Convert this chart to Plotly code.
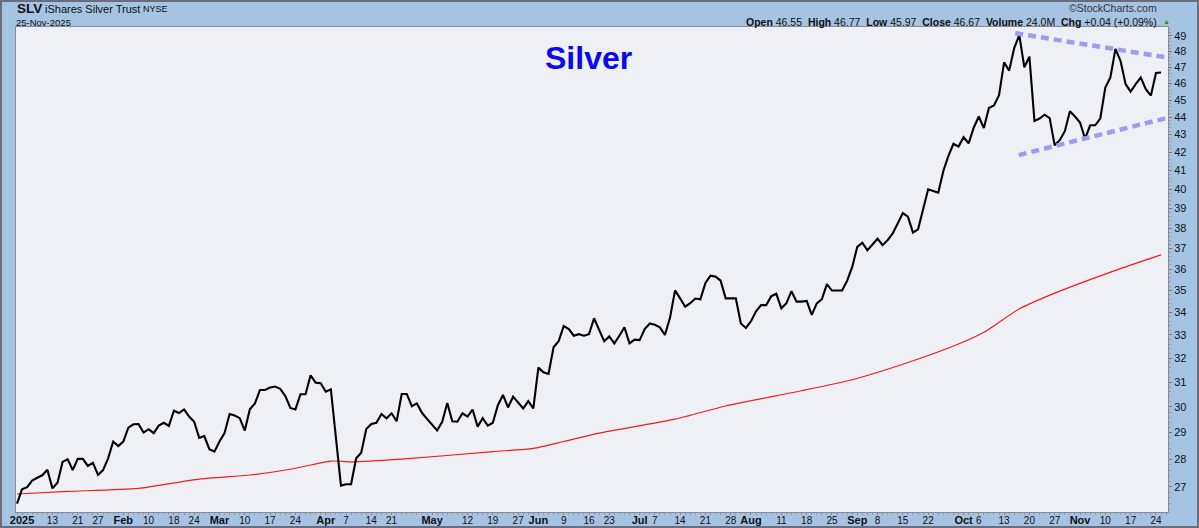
import numpy as np
import pandas as pd
import plotly.graph_objects as go

# ---------------- data ----------------
holidays = ["2025-01-01", "2025-01-09", "2025-01-20", "2025-02-17", "2025-04-18",
            "2025-05-26", "2025-06-19", "2025-07-04", "2025-09-01"]
dates = [d for d in pd.bdate_range("2024-12-31", "2025-11-25").strftime("%Y-%m-%d")
         if d not in holidays]

close = [
    26.40, 26.91, 26.98, 27.22, 27.32, 27.41, 27.61, 26.94, 27.14, 27.90,
    28.00, 27.60, 28.01, 28.01, 27.75, 27.87, 27.42, 27.60, 28.03, 28.66,
    28.49, 28.66, 29.19, 29.32, 29.33, 29.00, 29.13, 28.98, 29.27, 29.38,
    29.26, 29.85, 29.76, 29.90, 29.62, 29.42, 28.80, 28.87, 28.37, 28.28,
    28.66, 28.98, 29.72, 29.66, 29.56, 29.08, 29.91, 30.14, 30.68, 30.68,
    30.78, 30.82, 30.73, 30.44, 29.96, 29.90, 30.51, 30.51, 31.28, 30.98,
    30.96, 30.61, 30.71, 28.85, 27.04, 27.09, 27.09, 28.03, 28.24, 29.14,
    29.33, 29.38, 29.72, 29.55, 29.75, 29.44, 30.52, 30.52, 30.03, 30.14,
    29.77, 29.53, 29.30, 29.08, 29.42, 30.16, 29.44, 29.42, 29.75, 29.62,
    29.90, 29.23, 29.56, 29.27, 29.38, 30.07, 30.48, 29.98, 30.41, 30.18,
    29.94, 30.23, 29.94, 31.60, 31.41, 31.34, 32.46, 32.72, 33.38, 33.25,
    32.96, 33.03, 32.96, 33.03, 33.73, 33.22, 32.72, 32.93, 32.63, 32.96,
    33.33, 32.63, 32.79, 32.77, 33.25, 33.50, 33.44, 33.33, 33.00, 33.75,
    35.00, 34.63, 34.25, 34.41, 34.62, 34.59, 35.34, 35.68, 35.64, 35.45,
    34.63, 34.63, 34.63, 33.50, 33.30, 33.60, 34.04, 34.32, 34.32, 34.73,
    34.84, 34.18, 34.41, 34.96, 34.48, 34.48, 34.51, 33.88, 34.40, 34.59,
    35.29, 34.99, 34.99, 34.99, 35.45, 36.10, 37.07, 37.27, 36.90, 37.19,
    37.47, 37.15, 37.40, 37.73, 38.25, 38.76, 38.58, 37.77, 37.94, 38.98,
    40.00, 39.91, 39.82, 40.98, 41.80, 42.48, 42.32, 42.85, 42.50, 43.39,
    44.04, 43.37, 44.54, 44.68, 45.30, 47.30, 46.79, 48.21, 49.04, 47.00,
    47.66, 43.78, 43.92, 44.14, 43.94, 42.39, 42.68, 43.19, 44.34, 44.04,
    43.69, 42.76, 43.53, 43.53, 43.92, 45.76, 46.37, 48.15, 47.40, 45.96,
    45.51, 45.96, 46.37, 45.66, 45.27, 46.64, 46.67,
]

ma_dates = ["2024-12-31", "2025-01-16", "2025-02-06", "2025-02-25", "2025-03-11",
            "2025-03-21", "2025-04-02", "2025-04-08", "2025-04-23", "2025-05-19",
            "2025-05-30", "2025-06-09", "2025-06-18", "2025-07-11", "2025-07-25",
            "2025-08-15", "2025-08-29", "2025-09-15", "2025-09-30", "2025-10-07",
            "2025-10-16", "2025-10-28", "2025-11-13", "2025-11-25"]
ma200 = [26.74, 26.83, 26.94, 27.27, 27.42, 27.63, 27.93, 27.90, 28.00, 28.28,
         28.40, 28.66, 28.98, 29.52, 30.04, 30.65, 31.10, 31.74, 32.60, 33.11,
         34.15, 34.96, 36.02, 36.68]

# hand-drawn triangle trendlines (trading-day number, price)
trend_upper_day = [197.2, 227.4]
trend_upper_val = [49.16, 47.60]
trend_lower_day = [197.9, 227.4]
trend_lower_val = [41.85, 43.97]

tick_dates = ["2025-01-02", "2025-01-13", "2025-01-21", "2025-01-27", "2025-02-03",
              "2025-02-10", "2025-02-18", "2025-02-24", "2025-03-03", "2025-03-10",
              "2025-03-17", "2025-03-24", "2025-04-01", "2025-04-07", "2025-04-14",
              "2025-04-21", "2025-05-01", "2025-05-12", "2025-05-19", "2025-05-27",
              "2025-06-02", "2025-06-09", "2025-06-16", "2025-06-23", "2025-07-01",
              "2025-07-07", "2025-07-14", "2025-07-21", "2025-07-28", "2025-08-01",
              "2025-08-11", "2025-08-18", "2025-08-25", "2025-09-02", "2025-09-08",
              "2025-09-15", "2025-09-22", "2025-10-01", "2025-10-06", "2025-10-13",
              "2025-10-20", "2025-10-27", "2025-11-03", "2025-11-10", "2025-11-17",
              "2025-11-24"]
tick_labels = ["2025", "13", "21", "27", "Feb", "10", "18", "24", "Mar", "10", "17", "24",
               "Apr", "7", "14", "21", "May", "12", "19", "27", "Jun", "9", "16", "23",
               "Jul", "7", "14", "21", "28", "Aug", "11", "18", "25", "Sep", "8", "15",
               "22", "Oct", "6", "13", "20", "27", "Nov", "10", "17", "24"]
month_labels = {"2025", "Feb", "Mar", "Apr", "May", "Jun", "Jul", "Aug", "Sep", "Oct", "Nov"}
y_ticks = list(range(27, 50))

# ---------------- figure ----------------
W, H = 1199, 528
ML, MR, MT, MB = 16, 31, 27, 16
PW, PH = W - ML - MR, H - MT - MB
FONT = "Liberation Sans, Arial, sans-serif"


def xp(px):
    return (px - ML) / PW


def yp(py):
    return (H - MB - py) / PH


day_of = {d: i for i, d in enumerate(dates)}
xs = list(range(len(close)))

fig = go.Figure()
fig.add_trace(go.Scatter(x=[day_of[d] for d in ma_dates], y=ma200, mode="lines",
                         line=dict(color="#ee1c1c", width=1.2, shape="spline", smoothing=0.6),
                         hoverinfo="skip"))
fig.add_trace(go.Scatter(x=xs, y=close, mode="lines",
                         line=dict(color="#000000", width=2.1)))
for dx, dv in ((trend_upper_day, trend_upper_val), (trend_lower_day, trend_lower_val)):
    fig.add_trace(go.Scatter(x=dx, y=dv, mode="lines",
                             line=dict(color="#9c9cf0", width=4.5, dash="8px,5px")))

ticktext = []
for t in tick_labels:
    if t in month_labels:
        ticktext.append("<b>" + t + "</b>")
    else:
        ticktext.append('<span style="font-size:10px">' + t + "</span>")

fig.update_layout(
    width=W, height=H,
    margin=dict(l=ML, r=MR, t=MT, b=MB, pad=0, autoexpand=False),
    paper_bgcolor="#a5c3e2",
    plot_bgcolor="#eff0f6",
    showlegend=False,
    font=dict(family=FONT, color="#111111"),
    xaxis=dict(
        automargin=False,
        range=[(ML - 17) / 5.062, (W - MR - 17) / 5.062],
        tickmode="array",
        tickvals=[day_of[d] for d in tick_dates],
        ticktext=ticktext,
        tickfont=dict(size=11, color="#111111", family=FONT),
        ticks="outside", ticklen=2, tickcolor="#888888",
        ticklabelstandoff=-4,
        minor=dict(tickmode="linear", tick0=0, dtick=1, ticklen=2,
                   tickcolor="#999999", ticks="outside"),
        showgrid=False, zeroline=False,
        showline=True, linecolor="#8a8a96", linewidth=1, mirror=True,
    ),
    yaxis=dict(
        automargin=False,
        type="log", side="right",
        range=[1.41684, 1.69519],
        tickmode="array",
        tickvals=y_ticks,
        ticktext=[str(v) for v in y_ticks],
        tickfont=dict(size=11, color="#111111", family=FONT),
        ticks="outside", ticklen=3, tickcolor="#777777",
        minor=dict(tickmode="array", tickvals=list(np.round(np.arange(26.2, 50, 0.2), 1)),
                   ticklen=2, tickcolor="#999999", ticks="outside"),
        showgrid=False, zeroline=False,
        showline=True, linecolor="#8a8a96", linewidth=1, mirror=True,
    ),
)

# outer frame
fig.add_shape(type="rect", xref="paper", yref="paper",
              x0=xp(1), x1=xp(W - 1), y0=yp(H - 1), y1=yp(1),
              line=dict(color="#6c6c7c", width=2), fillcolor="rgba(0,0,0,0)", layer="above")

ann = []
ann.append(dict(text="<b>SLV</b>", x=xp(15), y=yp(9), xanchor="left", yanchor="middle",
                font=dict(size=13.5, color="#111111")))
ann.append(dict(text="iShares Silver Trust", x=xp(43), y=yp(9.5), xanchor="left", yanchor="middle",
                font=dict(size=11, color="#111111")))
ann.append(dict(text="NYSE", x=xp(141), y=yp(9.5), xanchor="left", yanchor="middle",
                font=dict(size=9, color="#111111")))
ann.append(dict(text="25-Nov-2025", x=xp(14), y=yp(22), xanchor="left", yanchor="middle",
                font=dict(size=9.5, color="#111111")))
ann.append(dict(text="\u00a9StockCharts.com", x=xp(1159), y=yp(8), xanchor="right", yanchor="middle",
                font=dict(size=10.5, color="#333333")))
ann.append(dict(text="<b>Open</b> 46.55  <b>High</b> 46.77  <b>Low</b> 45.97  <b>Close</b> 46.67  "
                     "<b>Volume</b> 24.0M  <b>Chg</b> +0.04 (+0.09%)",
                x=xp(1159), y=yp(21.5), xanchor="right", yanchor="middle",
                font=dict(size=10.5, color="#111111")))
ann.append(dict(text="\u25b2", x=xp(1161), y=yp(21), xanchor="left", yanchor="middle",
                font=dict(size=7, color="#2e8b2e")))
ann.append(dict(text="<b>Silver</b>", x=xp(588), y=yp(58), xanchor="center", yanchor="middle",
                font=dict(size=32, color="#0a0aee")))
for a in ann:
    a.update(xref="paper", yref="paper", showarrow=False)
fig.update_layout(annotations=ann)

fig.write_html("out.html", config={"displayModeBar": False},
               post_script="document.body.style.margin='0';document.body.style.padding='0';")
